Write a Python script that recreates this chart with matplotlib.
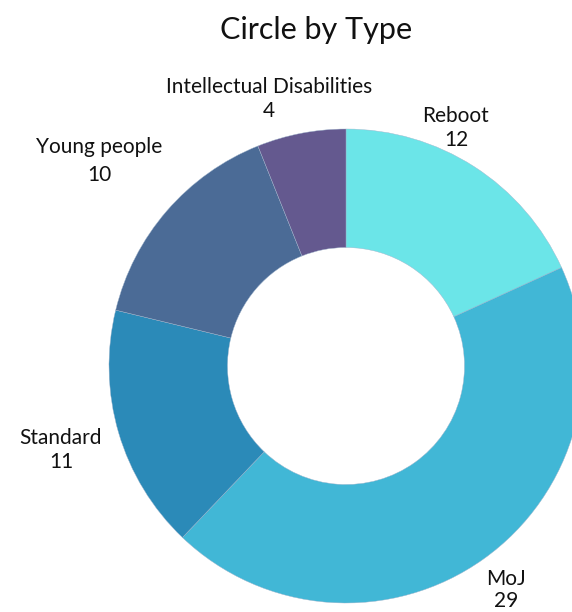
import matplotlib
matplotlib.use("Agg")
import matplotlib.pyplot as plt

categories = ["Reboot", "MoJ", "Standard", "Young people", "Intellectual Disabilities"]
values = [12, 29, 11, 10, 4]
colors = ["#6BE5E8", "#41B7D6", "#2B8AB8", "#4B6B96", "#64598F"]

W, H = 572, 612
fig = plt.figure(figsize=(W / 100, H / 100), dpi=100)
fig.patch.set_facecolor("white")

cx, cy, R = 346, 366, 237
ax = fig.add_axes([(cx - R) / W, 1 - (cy + R) / H, 2 * R / W, 2 * R / H])
ax.pie(values, colors=colors, startangle=90, counterclock=False, radius=1,
       wedgeprops=dict(width=0.5, edgecolor="#9fb4cc", linewidth=0.3))
ax.set_xlim(-1, 1)
ax.set_ylim(-1, 1)
ax.set_aspect("auto")
ax.axis("off")
for p in ax.patches:
    p.set_clip_on(False)

font = "Lato"
fig.text(316 / W, 1 - 30 / H, "Circle by Type", ha="center", va="center",
         fontsize=22, family=font, color="#111111")

label_pos = {
    "Reboot": (456, 128, 1.3),
    "MoJ": (506, 590, 1.15),
    "Standard": (61, 450, 1.3),
    "Young people": (99, 161, 1.45),
    "Intellectual Disabilities": (269, 99, 1.3),
}
for cat, val in zip(categories, values):
    x, y, ls = label_pos[cat]
    fig.text(x / W, 1 - y / H, f"{cat}\n{val}", ha="center", va="center",
             fontsize=15, family=font, color="#111111", linespacing=ls)

fig.savefig("out.png", dpi=100, facecolor="white")
